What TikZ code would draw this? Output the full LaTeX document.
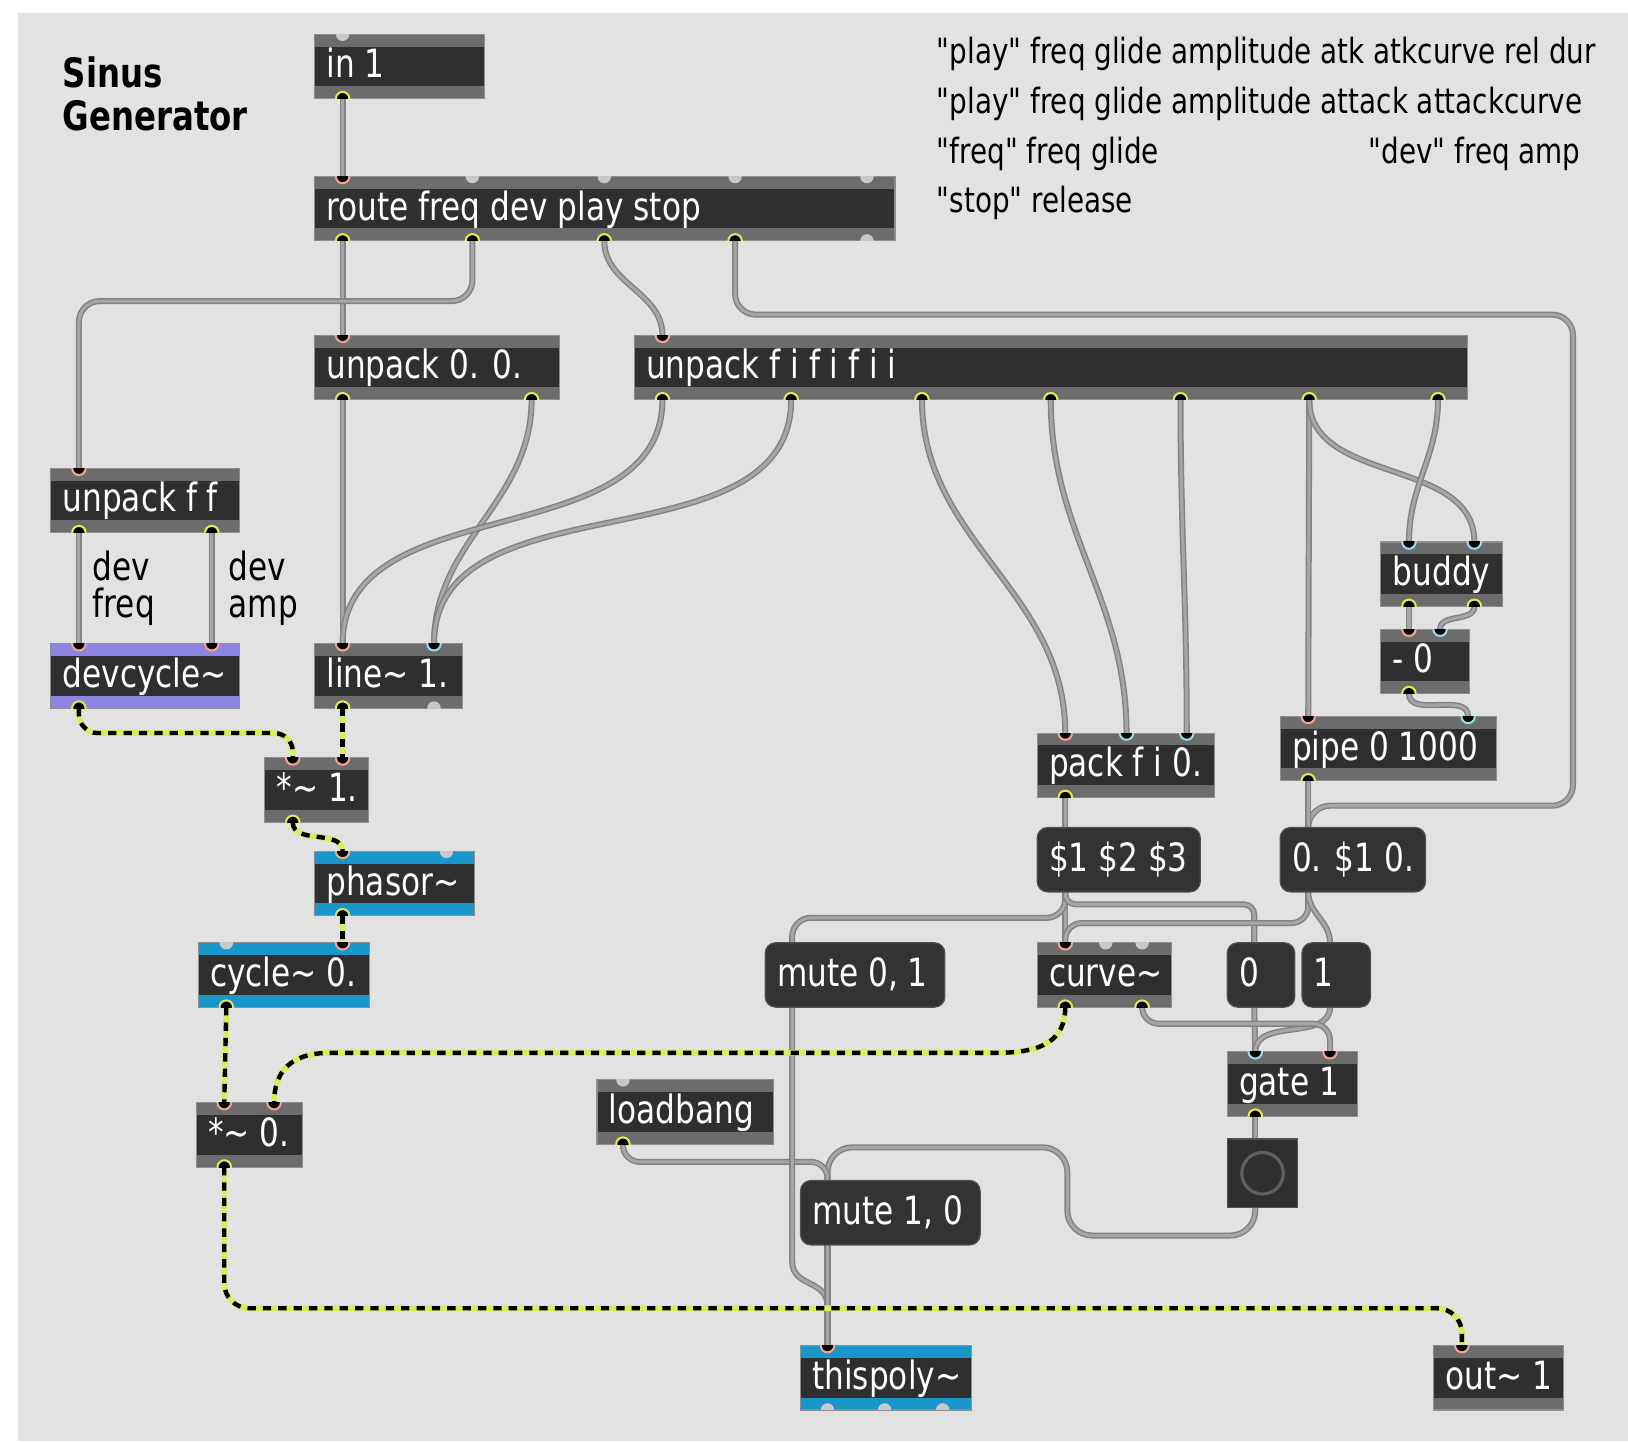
\documentclass[tikz,border=0pt]{standalone}
\usepackage{fontspec}
\setmainfont{DejaVu Sans}
\usepackage{graphicx}
\usetikzlibrary{calc}

\definecolor{paper}{HTML}{E2E2E2}
\definecolor{boxdark}{HTML}{2F2F2F}
\definecolor{strip}{HTML}{6C6C6C}
\definecolor{boxedge}{HTML}{8E8E8E}
\definecolor{msgdark}{HTML}{333333}
\definecolor{msgedge}{HTML}{505050}
\definecolor{lilac}{HTML}{8D85E2}
\definecolor{sigblue}{HTML}{1A97CA}
\definecolor{hotring}{HTML}{F2A48E}
\definecolor{coldring}{HTML}{8EE0EE}
\definecolor{outring}{HTML}{E4E84C}
\definecolor{freeport}{HTML}{C8C8C8}
\definecolor{corddark}{HTML}{828282}
\definecolor{cordlight}{HTML}{A6A6A6}
\definecolor{sigline}{HTML}{D4EE62}
\definecolor{bangring}{HTML}{606060}

\pgfdeclarelayer{bg}
\pgfdeclarelayer{cords}
\pgfsetlayers{bg,cords,main}

% patch text is drawn a little taller than the font's own proportions
\newcommand\tall[1]{\scalebox{1}[1.25]{#1}}
\newcommand\qq{\textquotedbl}

\tikzset{
  objbox/.style={rectangle, draw=boxedge, line width=0.5pt, fill=boxdark, inner sep=0pt, outer sep=0pt},
  msgbox/.style={rectangle, rounded corners=5pt, draw=msgedge, line width=0.6pt, fill=msgdark, inner sep=0pt, outer sep=0pt},
  boxlabel/.style={anchor=base west, inner sep=0pt, text=white, font=\fontsize{15}{18}\selectfont},
  note/.style={anchor=base west, inner sep=0pt, text=black, font=\fontsize{13.4}{16}\selectfont},
  cordnote/.style={anchor=base west, inner sep=0pt, text=black, font=\fontsize{15}{18}\selectfont},
  heading/.style={anchor=base west, inner sep=0pt, text=black, font=\fontsize{15.6}{18}\selectfont\bfseries},
  hot/.style={fill=black, draw=hotring, line width=1pt},
  cold/.style={fill=black, draw=coldring, line width=1pt},
  outp/.style={fill=black, draw=outring, line width=1pt},
  free/.style={fill=freeport},
  cord/.style={draw=cordlight, line width=1.5pt, preaction={draw=corddark, line width=2.9pt}},
  sig/.style={draw=sigline, line width=2.8pt, postaction={draw=black, line width=2.1pt, dash pattern=on 4pt off 3.4pt}},
  down/.style={out=-90, in=90},
}

% object box: name, strip colour, x1, y1, x2, y2, text
\newcommand\mxobj[7]{%
  \node[objbox, minimum width={0.5pt*(#5-#3)}, minimum height={0.5pt*(#6-#4)}] (#1) at ({(#3+#5)/2},{(#4+#6)/2}) {};
  \fill[#2] (#1.north west) rectangle ($(#1.north east)+(0,12)$);
  \fill[#2] ($(#1.south west)+(0,-12)$) rectangle (#1.south east);
  \draw[boxedge, line width=0.5pt] (#1.north west) rectangle (#1.south east);
  \node[boxlabel] (#1-t) at ($(#1.west)+(11,11)$) {\tall{#7}};
}
% message box: name, x1, y1, x2, y2, text
\newcommand\mxmsg[6]{%
  \node[msgbox, minimum width={0.5pt*(#4-#2)}, minimum height={0.5pt*(#5-#3)}] (#1) at ({(#2+#4)/2},{(#3+#5)/2}) {};
  \node[boxlabel] (#1-t) at ($(#1.west)+(11,11)$) {\tall{#6}};
}
% named point on a box edge: name, box, x, north/south
\newcommand\mxpt[4]{\coordinate (tmpx) at (#3,0); \coordinate (#1) at (#2.#4 -| tmpx);}
% inlet / outlet marks: name, box, x, look
\newcommand\mxin[4]{%
  \mxpt{#1}{#2}{#3}{north}
  \begin{scope}
    \clip (#2.north west) rectangle (#2.south east);
    \path[#4] (#1) circle[radius=6.5];
  \end{scope}}
\newcommand\mxout[4]{%
  \mxpt{#1}{#2}{#3}{south}
  \begin{scope}
    \clip (#2.north west) rectangle (#2.south east);
    \path[#4] (#1) circle[radius=6.5];
  \end{scope}}

\begin{document}
\begin{tikzpicture}[x=0.5pt,y=-0.5pt]
\useasboundingbox (0,0) rectangle (1568,1388);
\begin{pgfonlayer}{bg}
  \fill[white] (0,0) rectangle (1568,1388);
  \fill[paper] (17.5,12.5) rectangle (1568,1388);
\end{pgfonlayer}

% title and comments
\node[heading] (title1) at (60,84) {\tall{Sinus}};
\node[heading] (title2) at (60,126) {\tall{Generator}};
\node[note] (help1) at (902,61) {\tall{\qq play\qq{} freq glide amplitude atk atkcurve rel dur}};
\node[note] (help2) at (902,109) {\tall{\qq play\qq{} freq glide amplitude attack attackcurve}};
\node[note] (help3) at (902,157) {\tall{\qq freq\qq{} freq glide}};
\node[note] (help4) at (1318,157) {\tall{\qq dev\qq{} freq amp}};
\node[note] (help5) at (902,205) {\tall{\qq stop\qq{} release}};
\node[cordnote] (devf1) at (89,559) {\tall{dev}};
\node[cordnote] (devf2) at (89,595) {\tall{freq}};
\node[cordnote] (deva1) at (220,559) {\tall{dev}};
\node[cordnote] (deva2) at (220,595) {\tall{amp}};

% objects
\mxobj{inone}{strip}{303}{33}{467}{95}{in 1}
\mxobj{route}{strip}{303}{170}{862}{232}{route freq dev play stop}
\mxobj{unpzero}{strip}{303}{323}{539}{385}{unpack 0. 0.}
\mxobj{unpfi}{strip}{611}{323}{1413}{385}{unpack f i f i f i i}
\mxobj{unpff}{strip}{49}{451}{231}{513}{unpack f f}
\mxobj{devc}{lilac}{49}{620}{231}{682}{devcycle\textasciitilde}
\mxobj{linesig}{strip}{303}{620}{445}{682}{line\textasciitilde{} 1.}
\mxobj{mulone}{strip}{255}{730}{355}{792}{*\textasciitilde{} 1.}
\mxobj{phasor}{sigblue}{303}{820}{457}{882}{phasor\textasciitilde}
\mxobj{cycle}{sigblue}{191}{908}{356}{970}{cycle\textasciitilde{} 0.}
\mxobj{mulzero}{strip}{189}{1062}{291}{1124}{*\textasciitilde{} 0.}
\mxobj{loadbang}{strip}{575}{1040}{745}{1102}{loadbang}
\mxobj{thispoly}{sigblue}{771}{1296}{936}{1358}{thispoly\textasciitilde}
\mxobj{outone}{strip}{1381}{1296}{1506}{1358}{out\textasciitilde{} 1}
\mxobj{pack}{strip}{999}{706}{1170}{768}{pack f i 0.}
\mxobj{pipe}{strip}{1233}{690}{1441}{752}{pipe 0 1000}
\mxobj{buddy}{strip}{1330}{522}{1447}{584}{buddy}
\mxobj{minus}{strip}{1330}{606}{1415}{668}{- 0}
\mxobj{curve}{strip}{999}{908}{1128}{970}{curve\textasciitilde}
\mxobj{gate}{strip}{1182}{1013}{1307}{1075}{gate 1}

% message boxes
\mxmsg{dollars}{999}{797}{1156}{859}{\$1 \$2 \$3}
\mxmsg{release}{1233}{797}{1373}{859}{0. \$1 0.}
\mxmsg{muteon}{737}{908}{910}{970}{mute 0, 1}
\mxmsg{muteoff}{771}{1137}{944}{1199}{mute 1, 0}
\mxmsg{zero}{1182}{908}{1247}{970}{0}
\mxmsg{one}{1254}{908}{1320}{970}{1}
\mxpt{dollars-i}{dollars}{1026}{north} \mxpt{dollars-o}{dollars}{1026}{south}
\mxpt{release-i}{release}{1260}{north} \mxpt{release-o}{release}{1260}{south}
\mxpt{muteon-i}{muteon}{763}{north} \mxpt{muteon-o}{muteon}{763}{south}
\mxpt{muteoff-i}{muteoff}{797}{north} \mxpt{muteoff-o}{muteoff}{797}{south}
\mxpt{zero-i}{zero}{1208}{north} \mxpt{zero-o}{zero}{1208}{south}
\mxpt{one-i}{one}{1281}{north} \mxpt{one-o}{one}{1281}{south}

% button
\node[rectangle, fill=boxdark, draw=msgedge, line width=0.5pt, minimum width=34pt, minimum height=33pt, inner sep=0pt] (bang) at (1216,1130) {};
\draw[bangring, line width=1.5pt] (bang.center) circle[radius=20];
\mxpt{bang-i}{bang}{1209}{north} \mxpt{bang-o}{bang}{1209}{south}

% inlets and outlets
\mxin{inone-f0}{inone}{330}{free} \mxout{inone-o0}{inone}{330}{outp}
\mxin{route-i0}{route}{330}{hot}
\mxin{route-f1}{route}{455}{free} \mxin{route-f2}{route}{582}{free}
\mxin{route-f3}{route}{708}{free} \mxin{route-f4}{route}{835}{free}
\mxout{route-o0}{route}{330}{outp} \mxout{route-o1}{route}{455}{outp}
\mxout{route-o2}{route}{582}{outp} \mxout{route-o3}{route}{708}{outp}
\mxout{route-g4}{route}{835}{free}
\mxin{unpzero-i0}{unpzero}{330}{hot}
\mxout{unpzero-o0}{unpzero}{330}{outp} \mxout{unpzero-o1}{unpzero}{512}{outp}
\mxin{unpfi-i0}{unpfi}{638}{hot}
\mxout{unpfi-o0}{unpfi}{638}{outp} \mxout{unpfi-o1}{unpfi}{762}{outp}
\mxout{unpfi-o2}{unpfi}{888}{outp} \mxout{unpfi-o3}{unpfi}{1012}{outp}
\mxout{unpfi-o4}{unpfi}{1137}{outp} \mxout{unpfi-o5}{unpfi}{1261}{outp}
\mxout{unpfi-o6}{unpfi}{1385}{outp}
\mxin{unpff-i0}{unpff}{76}{hot}
\mxout{unpff-o0}{unpff}{76}{outp} \mxout{unpff-o1}{unpff}{204}{outp}
\mxin{devc-i0}{devc}{76}{hot} \mxin{devc-i1}{devc}{204}{hot}
\mxout{devc-o0}{devc}{76}{outp}
\mxin{linesig-i0}{linesig}{330}{hot} \mxin{linesig-i1}{linesig}{418}{cold}
\mxout{linesig-o0}{linesig}{330}{outp} \mxout{linesig-g1}{linesig}{418}{free}
\mxin{mulone-i0}{mulone}{282}{hot} \mxin{mulone-i1}{mulone}{330}{hot}
\mxout{mulone-o0}{mulone}{282}{outp}
\mxin{phasor-i0}{phasor}{330}{hot} \mxin{phasor-f1}{phasor}{430}{free}
\mxout{phasor-o0}{phasor}{330}{outp}
\mxin{cycle-f0}{cycle}{218}{free} \mxin{cycle-i1}{cycle}{330}{hot}
\mxout{cycle-o0}{cycle}{218}{outp}
\mxin{mulzero-i0}{mulzero}{216}{hot} \mxin{mulzero-i1}{mulzero}{264}{hot}
\mxout{mulzero-o0}{mulzero}{216}{outp}
\mxin{loadbang-f0}{loadbang}{600}{free} \mxout{loadbang-o0}{loadbang}{600}{outp}
\mxin{thispoly-i0}{thispoly}{797}{hot}
\mxout{thispoly-g0}{thispoly}{797}{free} \mxout{thispoly-g1}{thispoly}{852}{free}
\mxout{thispoly-g2}{thispoly}{908}{free}
\mxin{outone-i0}{outone}{1408}{hot}
\mxin{pack-i0}{pack}{1026}{hot} \mxin{pack-i1}{pack}{1085}{cold} \mxin{pack-i2}{pack}{1143}{cold}
\mxout{pack-o0}{pack}{1026}{outp}
\mxin{pipe-i0}{pipe}{1260}{hot} \mxin{pipe-i1}{pipe}{1414}{cold}
\mxout{pipe-o0}{pipe}{1260}{outp}
\mxin{buddy-i0}{buddy}{1357}{cold} \mxin{buddy-i1}{buddy}{1420}{cold}
\mxout{buddy-o0}{buddy}{1357}{outp} \mxout{buddy-o1}{buddy}{1420}{outp}
\mxin{minus-i0}{minus}{1357}{hot} \mxin{minus-i1}{minus}{1387}{cold}
\mxout{minus-o0}{minus}{1357}{outp}
\mxin{curve-i0}{curve}{1026}{hot} \mxin{curve-f1}{curve}{1065}{free} \mxin{curve-f2}{curve}{1100}{free}
\mxout{curve-o0}{curve}{1026}{outp} \mxout{curve-o1}{curve}{1100}{outp}
\mxin{gate-i0}{gate}{1209}{cold} \mxin{gate-i1}{gate}{1281}{hot}
\mxout{gate-o0}{gate}{1209}{outp}

% patch cords
\begin{pgfonlayer}{cords}
\draw[cord] (inone-o0) -- (route-i0);
\draw[cord] (route-o0) -- (unpzero-i0);
\draw[cord, rounded corners=10pt] (route-o1) -- (455,290) -- (76,290) -- (unpff-i0);
\draw[cord] (route-o2) to[down] (unpfi-i0);
\draw[cord, rounded corners=10pt] (route-o3) -- (708,303) -- (1515,303) -- (1515,776) -- (1261,776) -- (release-i);
\draw[cord] (unpzero-o0) -- (linesig-i0);
\draw[cord] (unpzero-o1) to[down] (linesig-i1);
\draw[cord] (unpfi-o0) to[down] (linesig-i0);
\draw[cord] (unpfi-o1) to[down] (linesig-i1);
\draw[cord] (unpfi-o2) to[down] (pack-i0);
\draw[cord] (unpfi-o3) to[down] (pack-i1);
\draw[cord] (unpfi-o4) to[down] (pack-i2);
\draw[cord] (unpfi-o5) -- (pipe-i0);
\draw[cord] (unpfi-o5) to[down] (buddy-i1);
\draw[cord] (unpfi-o6) to[down] (buddy-i0);
\draw[cord] (buddy-o0) -- (minus-i0);
\draw[cord] (buddy-o1) to[down] (minus-i1);
\draw[cord] (minus-o0) to[down] (pipe-i1);
\draw[cord] (pipe-o0) -- (release-i);
\draw[cord] (unpff-o0) -- (devc-i0);
\draw[cord] (unpff-o1) -- (devc-i1);
\draw[cord] (pack-o0) -- (dollars-i);
\draw[cord] (dollars-o) -- (curve-i0);
\draw[cord, rounded corners=9pt] (dollars-o) -- (1026,884) -- (763,884) -- (muteon-i);
\draw[cord, rounded corners=5pt] (dollars-o) -- (1026,871) -- (1208,871) -- (zero-i);
\draw[cord, rounded corners=8pt] (release-o) -- (1260,889) -- (1026,889) -- (curve-i0);
\draw[cord] (release-o) to[down] (one-i);
\draw[cord] (zero-o) -- (gate-i0);
\draw[cord] (one-o) to[down] (gate-i0);
\draw[cord, rounded corners=8pt] (curve-o1) -- (1100,986) -- (1281,986) -- (gate-i1);
\draw[cord] (gate-o0) -- (bang-i);
\draw[cord, rounded corners=12pt] (bang-o) -- (1209,1190) -- (1028,1190) -- (1028,1105) -- (797,1105) -- (muteoff-i);
\draw[cord, rounded corners=8pt] (loadbang-o0) -- (600,1119) -- (797,1119) -- (muteoff-i);
\draw[cord] (muteon-o) -- (763,1215) .. controls (763,1240) and (797,1232) .. (797,1258) -- (thispoly-i0);
\draw[cord] (muteoff-o) -- (thispoly-i0);
% signal cords
\draw[sig, rounded corners=9pt] (devc-o0) -- (76,706) -- (282,706) -- (mulone-i0);
\draw[sig] (linesig-o0) -- (mulone-i1);
\draw[sig] (mulone-o0) to[down] (phasor-i0);
\draw[sig] (phasor-o0) -- (cycle-i1);
\draw[sig] (cycle-o0) -- (mulzero-i0);
\draw[sig] (curve-o0) .. controls (1026,1002) and (1004,1014) .. (960,1014) -- (318,1014) .. controls (280,1014) and (264,1032) .. (mulzero-i1);
\draw[sig, rounded corners=12pt] (mulzero-o0) -- (216,1260) -- (1408,1260) -- (outone-i0);
\end{pgfonlayer}
\end{tikzpicture}
\end{document}
